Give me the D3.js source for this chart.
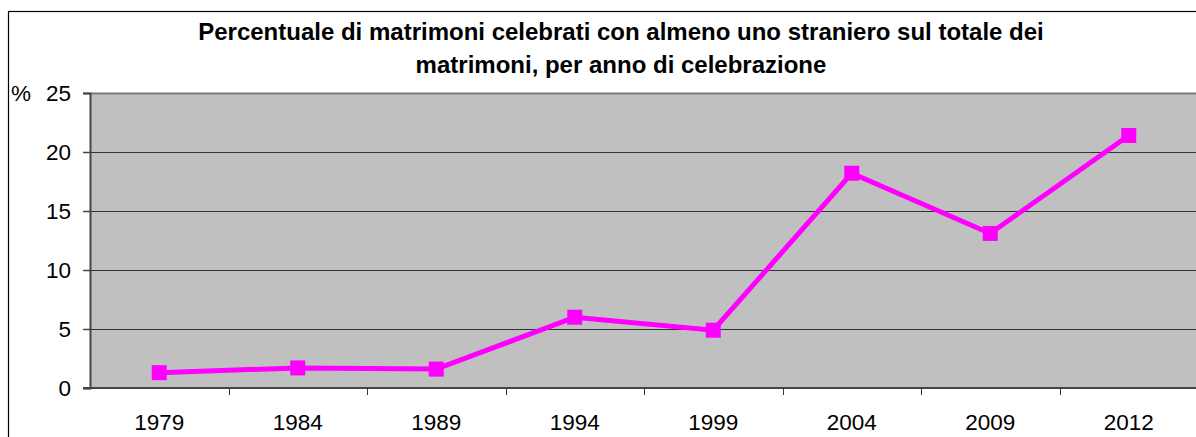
<!DOCTYPE html>
<html>
<head>
<meta charset="utf-8">
<script src="https://cdn.jsdelivr.net/npm/d3@7"></script>
<style>
  html, body { margin: 0; padding: 0; background: #fff; }
  svg { display: block; font-family: "Liberation Sans", Arial, sans-serif; }
</style>
</head>
<body>
<svg id="chart" width="1196" height="437"></svg>
<script>
// Wedding years and share of marriages with at least one foreign spouse (%)
const years = ["1979", "1984", "1989", "1994", "1999", "2004", "2009", "2012"];
const shares = [1.3, 1.7, 1.6, 6.0, 4.9, 18.2, 13.1, 21.4];
const yTicks = [0, 5, 10, 15, 20, 25];
const titleLines = [
  "Percentuale di matrimoni celebrati con almeno uno straniero sul totale dei",
  "matrimoni, per anno di celebrazione"
];

const svg = d3.select("#chart");
const W = 1196, H = 437;
const plot = { left: 90, right: 1198, top: 93, bottom: 388 };
const labelFont = "'Liberation Sans', Arial, sans-serif";

// outer frame
svg.append("rect")
  .attr("x", 8.5).attr("y", 11.5)
  .attr("width", W + 10).attr("height", H + 10)
  .attr("fill", "#fff").attr("stroke", "#000").attr("stroke-width", 1.2);

// title
svg.append("g").selectAll("text").data(titleLines).join("text")
  .attr("x", 621).attr("y", (d, i) => 40 + i * 33)
  .attr("text-anchor", "middle")
  .attr("font-family", labelFont)
  .attr("font-size", 24).attr("font-weight", "bold")
  .attr("fill", "#000")
  .text(d => d);

const x = d3.scaleBand().domain(years).range([plot.left, plot.right]);
const y = d3.scaleLinear().domain([0, 25]).range([plot.bottom, plot.top]);

// plot background
svg.append("rect")
  .attr("x", plot.left).attr("y", plot.top)
  .attr("width", plot.right - plot.left).attr("height", plot.bottom - plot.top)
  .attr("fill", "#c0c0c0");

// horizontal gridlines
svg.append("g").selectAll("line").data(yTicks.filter(t => t > 0)).join("line")
  .attr("x1", plot.left).attr("x2", plot.right)
  .attr("y1", d => Math.round(y(d)) + 0.5).attr("y2", d => Math.round(y(d)) + 0.5)
  .attr("stroke", d => d === 25 ? "#7a7a7a" : "#333")
  .attr("stroke-width", d => d === 25 ? 2 : 1);

// y axis
const yAxis = svg.append("g")
  .attr("transform", `translate(${plot.left},0)`)
  .call(d3.axisLeft(y).tickValues(yTicks).tickSize(7).tickPadding(12).tickFormat(d3.format("d")));
yAxis.attr("font-size", null).attr("font-family", null);
yAxis.select(".domain").attr("stroke", "#444").attr("stroke-width", 2);
yAxis.selectAll(".tick line").attr("stroke", "#444").attr("stroke-width", 1.5);
yAxis.selectAll(".tick text")
  .style("font-size", "22.5px").style("font-family", labelFont).attr("fill", "#000");

// unit label
svg.append("text")
  .attr("x", 11).attr("y", 101)
  .style("font-size", "22.5px").style("font-family", labelFont)
  .attr("fill", "#000")
  .text("%");

// x axis
const xAxis = svg.append("g")
  .attr("transform", `translate(0,${plot.bottom})`)
  .call(d3.axisBottom(x).tickSize(0).tickPadding(26));
xAxis.attr("font-size", null).attr("font-family", null);
xAxis.select(".domain").remove();
xAxis.selectAll(".tick text")
  .style("font-size", "22.5px").style("font-family", labelFont).attr("fill", "#000");
svg.append("line")
  .attr("x1", plot.left - 7).attr("x2", plot.right)
  .attr("y1", plot.bottom).attr("y2", plot.bottom)
  .attr("stroke", "#444").attr("stroke-width", 2);
// category separators
const seps = years.map((d, i) => x(d)).slice(1).concat([x(years[years.length - 1]) + x.bandwidth()]);
svg.append("g").selectAll("line").data(seps).join("line")
  .attr("x1", d => Math.round(d) + 0.5).attr("x2", d => Math.round(d) + 0.5)
  .attr("y1", plot.bottom).attr("y2", plot.bottom + 7)
  .attr("stroke", "#333").attr("stroke-width", 1);

// series line
const cx = d => x(d) + x.bandwidth() / 2;
const line = d3.line().x((d, i) => cx(years[i])).y(d => y(d));
svg.append("path")
  .datum(shares)
  .attr("d", line)
  .attr("fill", "none")
  .attr("stroke", "#ff00ff")
  .attr("stroke-width", 5)
  .attr("stroke-linejoin", "miter");

// square markers
const ms = 15;
svg.append("g").selectAll("rect").data(shares).join("rect")
  .attr("x", (d, i) => cx(years[i]) - ms / 2)
  .attr("y", d => y(d) - ms / 2)
  .attr("width", ms).attr("height", ms)
  .attr("fill", "#ff00ff");
</script>
</body>
</html>
